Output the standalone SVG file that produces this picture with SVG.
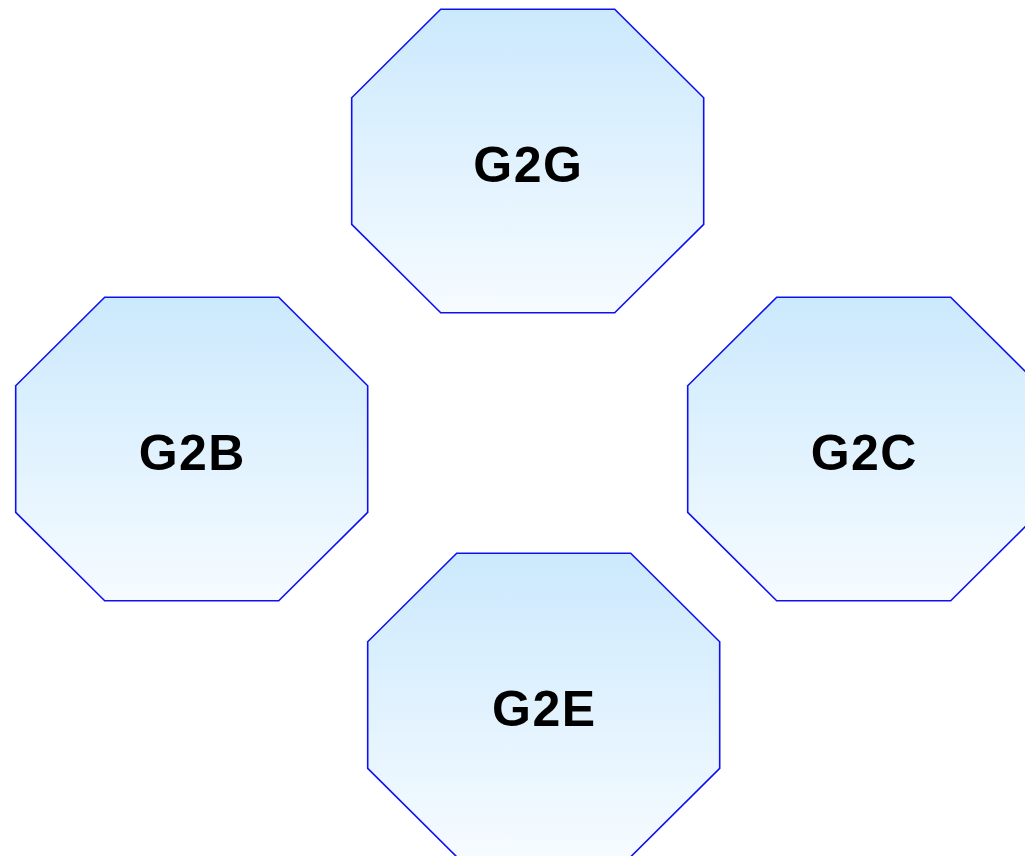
<svg xmlns="http://www.w3.org/2000/svg" xmlns:xlink="http://www.w3.org/1999/xlink" width="1025" height="856" viewBox="0 0 1025 856">
<style>
.oct{fill:url(#g);stroke:#1010ee;stroke-width:1.6}
.lbl{font-family:"Liberation Sans",Arial,sans-serif;font-weight:bold;font-size:50px;letter-spacing:1.5px;fill:#000;text-anchor:middle}
</style>
<defs>
<linearGradient id="g" x1="0" y1="0" x2="0" y2="1">
<stop offset="0" stop-color="#cbe9fd"/>
<stop offset="1" stop-color="#f6fbff"/>
</linearGradient>
<polygon id="oct" points="89,0 263,0 352,88.5 352,215 263,303.5 89,303.5 0,215 0,88.5"/>
</defs>
<rect width="1025" height="856" fill="#fff"/>
<g id="connectors"></g>
<g id="G2G"><use xlink:href="#oct" href="#oct" class="oct" x="351.7" y="9.3"/><text class="lbl" x="528.3" y="181.5">G2G</text></g>
<g id="G2B"><use xlink:href="#oct" href="#oct" class="oct" x="15.7" y="297.3"/><text class="lbl" x="192.3" y="469.5">G2B</text></g>
<g id="G2C"><use xlink:href="#oct" href="#oct" class="oct" x="687.7" y="297.3"/><text class="lbl" x="864.3" y="469.5">G2C</text></g>
<g id="G2E"><use xlink:href="#oct" href="#oct" class="oct" x="367.7" y="553.3"/><text class="lbl" x="544.3" y="725.5">G2E</text></g>
</svg>
